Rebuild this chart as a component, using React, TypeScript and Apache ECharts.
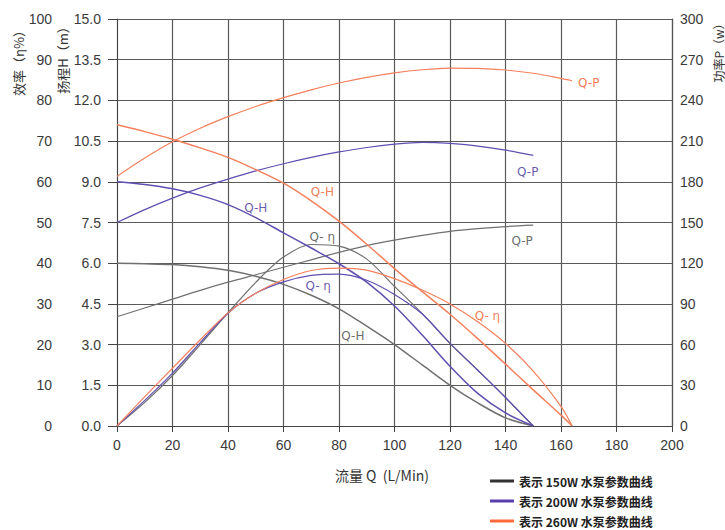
import React, { useEffect, useRef } from "react";
import * as echarts from "echarts";

// Flow (L/Min) sample points
const flow150 = [0, 10, 20, 30, 40, 50, 60, 70, 80, 90, 100, 110, 120, 130, 140, 150];
const flow200 = [0, 10, 20, 30, 40, 50, 60, 70, 80, 90, 100, 110, 120, 130, 140, 150];
const flow260 = [0, 10, 20, 30, 40, 50, 60, 70, 80, 90, 100, 110, 120, 130, 140, 150, 160, 164];

// 150W pump
const head150 = [6.0, 5.98, 5.95, 5.87, 5.74, 5.52, 5.22, 4.82, 4.32, 3.68, 3.0, 2.25, 1.5, 0.85, 0.3, 0];
const eff150 = [0, 5.8, 12.4, 20, 27.8, 35.3, 41.5, 44.6, 44.2, 41.0, 34.3, 27.6, 20.3, 13.7, 7, 0];
const power150 = [80.5, 87, 93.5, 100, 106, 111.5, 117, 122.5, 128, 133, 137, 140.5, 143.5, 145.5, 147, 148];

// 200W pump
const head200 = [9.0, 8.9, 8.74, 8.5, 8.16, 7.68, 7.12, 6.56, 5.98, 5.3, 4.42, 3.35, 2.2, 1.2, 0.48, 0];
const eff200 = [0, 6.3, 13, 20.5, 27.7, 32.6, 35.4, 37.0, 37.3, 35.8, 32.3, 27.5, 20.3, 13.7, 7, 0];
const power200 = [150, 159.5, 168, 175.5, 182, 188, 193.3, 198, 202, 205.3, 207.7, 209, 208.3, 206.3, 203.3, 199.5];

// 260W pump
const head260 = [11.1, 10.85, 10.57, 10.25, 9.9, 9.45, 8.95, 8.3, 7.55, 6.7, 5.8, 4.95, 4.12, 3.22, 2.28, 1.33, 0.4, 0];
const eff260 = [0, 7.2, 14.2, 21.2, 27.8, 32.6, 36, 38.2, 38.8, 38.3, 36.2, 33.4, 30, 25.6, 20.3, 13.5, 4.8, 0];
const power260 = [184, 197.5, 209.5, 219.5, 228, 235.5, 242, 247.8, 252.8, 257, 260.3, 262.6, 263.8, 263.6, 262.4, 260, 256.2, 254.5];

// Axis ranges
const flowMax = 200;
const flowStep = 20;
const headMax = 15;
const headStep = 1.5;
const effMax = 100;
const effStep = 10;
const powerMax = 300;
const powerStep = 30;

const legendNames = ["表示 150W 水泵参数曲线", "表示 200W 水泵参数曲线", "表示 260W 水泵参数曲线"];
const legendColors = ["#333333", "#5a3fb0", "#ff6a3d"];

// Curve annotations: [flow, head-equivalent, text, pump index]
const curveLabels: [number, number, string, number][] = [
  [146, 6.8, "Q-P", 0],
  [148, 9.35, "Q-P", 1],
  [170, 12.63, "Q-P", 2],
  [74, 8.64, "Q-H", 2],
  [50, 8.05, "Q-H", 1],
  [85, 3.32, "Q-H", 0],
  [74, 6.98, "Q- η", 0],
  [72.5, 5.17, "Q- η", 1],
  [133.5, 4.06, "Q- η", 2],
];

const lineColors = ["#707070", "#5e4fb0", "#f5805c"];
const labelColors = ["#444444", "#3f2f9a", "#f05a28"];

const pair = (xs: number[], ys: number[]) => xs.map((x, i) => [x, ys[i]]);

export default function App() {
  const ref = useRef<HTMLDivElement>(null);
  useEffect(() => {
    if (!ref.current) return;
    const chart = echarts.init(ref.current, null, { renderer: "svg" });
    const font = "'Liberation Sans', Arial, sans-serif";
    const cjk = "'Noto Sans CJK SC', sans-serif";
    const axisTextColor = "#3a3a3a";
    const gridColor = "#5a5a5a";

    const pumps = [
      { q: flow150, h: head150, e: eff150, p: power150 },
      { q: flow200, h: head200, e: eff200, p: power200 },
      { q: flow260, h: head260, e: eff260, p: power260 },
    ];

    const series: any[] = [];
    pumps.forEach((pm, i) => {
      const base = {
        type: "line",
        name: legendNames[i],
        smooth: 0.3,
        showSymbol: false,
        symbol: "none",
        silent: true,
        itemStyle: { color: lineColors[i] },
        lineStyle: { color: lineColors[i], width: 1.2 },
      };
      series.push({ ...base, xAxisIndex: 0, yAxisIndex: 0, data: pair(pm.q, pm.h), lineStyle: { ...base.lineStyle, width: 1.5 } });
      series.push({ ...base, xAxisIndex: 0, yAxisIndex: 1, data: pair(pm.q, pm.e) });
      series.push({ ...base, xAxisIndex: 0, yAxisIndex: 2, data: pair(pm.q, pm.p) });
    });

    series.push({
      type: "scatter",
      name: "labels",
      xAxisIndex: 0,
      yAxisIndex: 0,
      symbolSize: 1,
      silent: true,
      itemStyle: { color: "rgba(0,0,0,0)" },
      data: curveLabels.map(([q, h, t, k]) => ({
        value: [q, h],
        name: t,
        label: { color: labelColors[k] },
      })),
      label: {
        show: true,
        position: "inside",
        formatter: "{b}",
        fontSize: 12,
        fontFamily: "'DejaVu Sans', sans-serif",
      },
    });

    chart.setOption({
      animation: false,
      backgroundColor: "#ffffff",
      grid: { left: 117, right: 53, top: 19, bottom: 104, containLabel: false },
      legend: {
        orient: "vertical",
        left: 490,
        top: 475,
        padding: 0,
        itemGap: 8,
        itemWidth: 24,
        itemHeight: 3,
        icon: "rect",
        selectedMode: false,
        data: legendNames.map((n, i) => ({ name: n, itemStyle: { color: legendColors[i] } })),
        textStyle: { fontSize: 12, fontWeight: "bold", color: "#222", fontFamily: cjk },
      },
      xAxis: [
        {
          type: "value",
          min: 0,
          max: flowMax,
          interval: flowStep,
          axisLine: { show: true, lineStyle: { color: "#444", width: 1 } },
          axisTick: { show: true, length: 6, lineStyle: { color: "#444" } },
          axisLabel: { margin: 12, fontSize: 14, color: axisTextColor, fontFamily: font },
          splitLine: { show: true, lineStyle: { color: gridColor, width: 1.2 } },
        },
      ],
      yAxis: [
        {
          type: "value",
          position: "left",
          min: 0,
          max: headMax,
          interval: headStep,
          axisLine: { show: true, lineStyle: { color: "#444", width: 1 } },
          axisTick: { show: true, length: 9, lineStyle: { color: "#444" } },
          axisLabel: {
            margin: 16,
            fontSize: 14,
            color: axisTextColor,
            fontFamily: font,
            formatter: (v: number) => v.toFixed(1),
          },
          splitLine: { show: true, lineStyle: { color: gridColor, width: 1.2 } },
        },
        {
          type: "value",
          position: "left",
          offset: 57,
          min: 0,
          max: effMax,
          interval: effStep,
          axisLine: { show: false },
          axisTick: { show: false },
          axisLabel: { margin: 8, fontSize: 14, color: axisTextColor, fontFamily: font },
          splitLine: { show: false },
        },
        {
          type: "value",
          position: "right",
          min: 0,
          max: powerMax,
          interval: powerStep,
          axisLine: { show: true, lineStyle: { color: "#555", width: 1.2 } },
          axisTick: { show: false },
          axisLabel: { margin: 8, fontSize: 14, color: axisTextColor, fontFamily: font },
          splitLine: { show: false },
        },
      ],
      graphic: [
        {
          type: "text",
          x: 18,
          y: 60,
          rotation: Math.PI / 2,
          silent: true,
          style: {
            text: "效率（η%）",
            align: "center",
            verticalAlign: "middle",
            fontSize: 13,
            fill: "#333",
            fontFamily: cjk,
          },
        },
        {
          type: "text",
          x: 62,
          y: 57,
          rotation: Math.PI / 2,
          silent: true,
          style: {
            text: "扬程H（m）",
            align: "center",
            verticalAlign: "middle",
            fontSize: 13,
            fill: "#333",
            fontFamily: cjk,
          },
        },
        {
          type: "text",
          x: 718,
          y: 50,
          rotation: Math.PI / 2,
          silent: true,
          style: {
            text: "功率P（w）",
            align: "center",
            verticalAlign: "middle",
            fontSize: 12,
            fill: "#333",
            fontFamily: cjk,
          },
        },
        {
          type: "text",
          x: 382,
          y: 475,
          silent: true,
          style: {
            text: "流量 Q  (L/Min)",
            align: "center",
            verticalAlign: "middle",
            fontSize: 14,
            fill: "#333",
            fontFamily: cjk,
          },
        },
      ],
      series,
    });
    return () => chart.dispose();
  }, []);

  return (
    <div
      ref={ref}
      style={{ position: "fixed", left: 0, top: 0, width: 725, height: 530, background: "#fff" }}
    />
  );
}
